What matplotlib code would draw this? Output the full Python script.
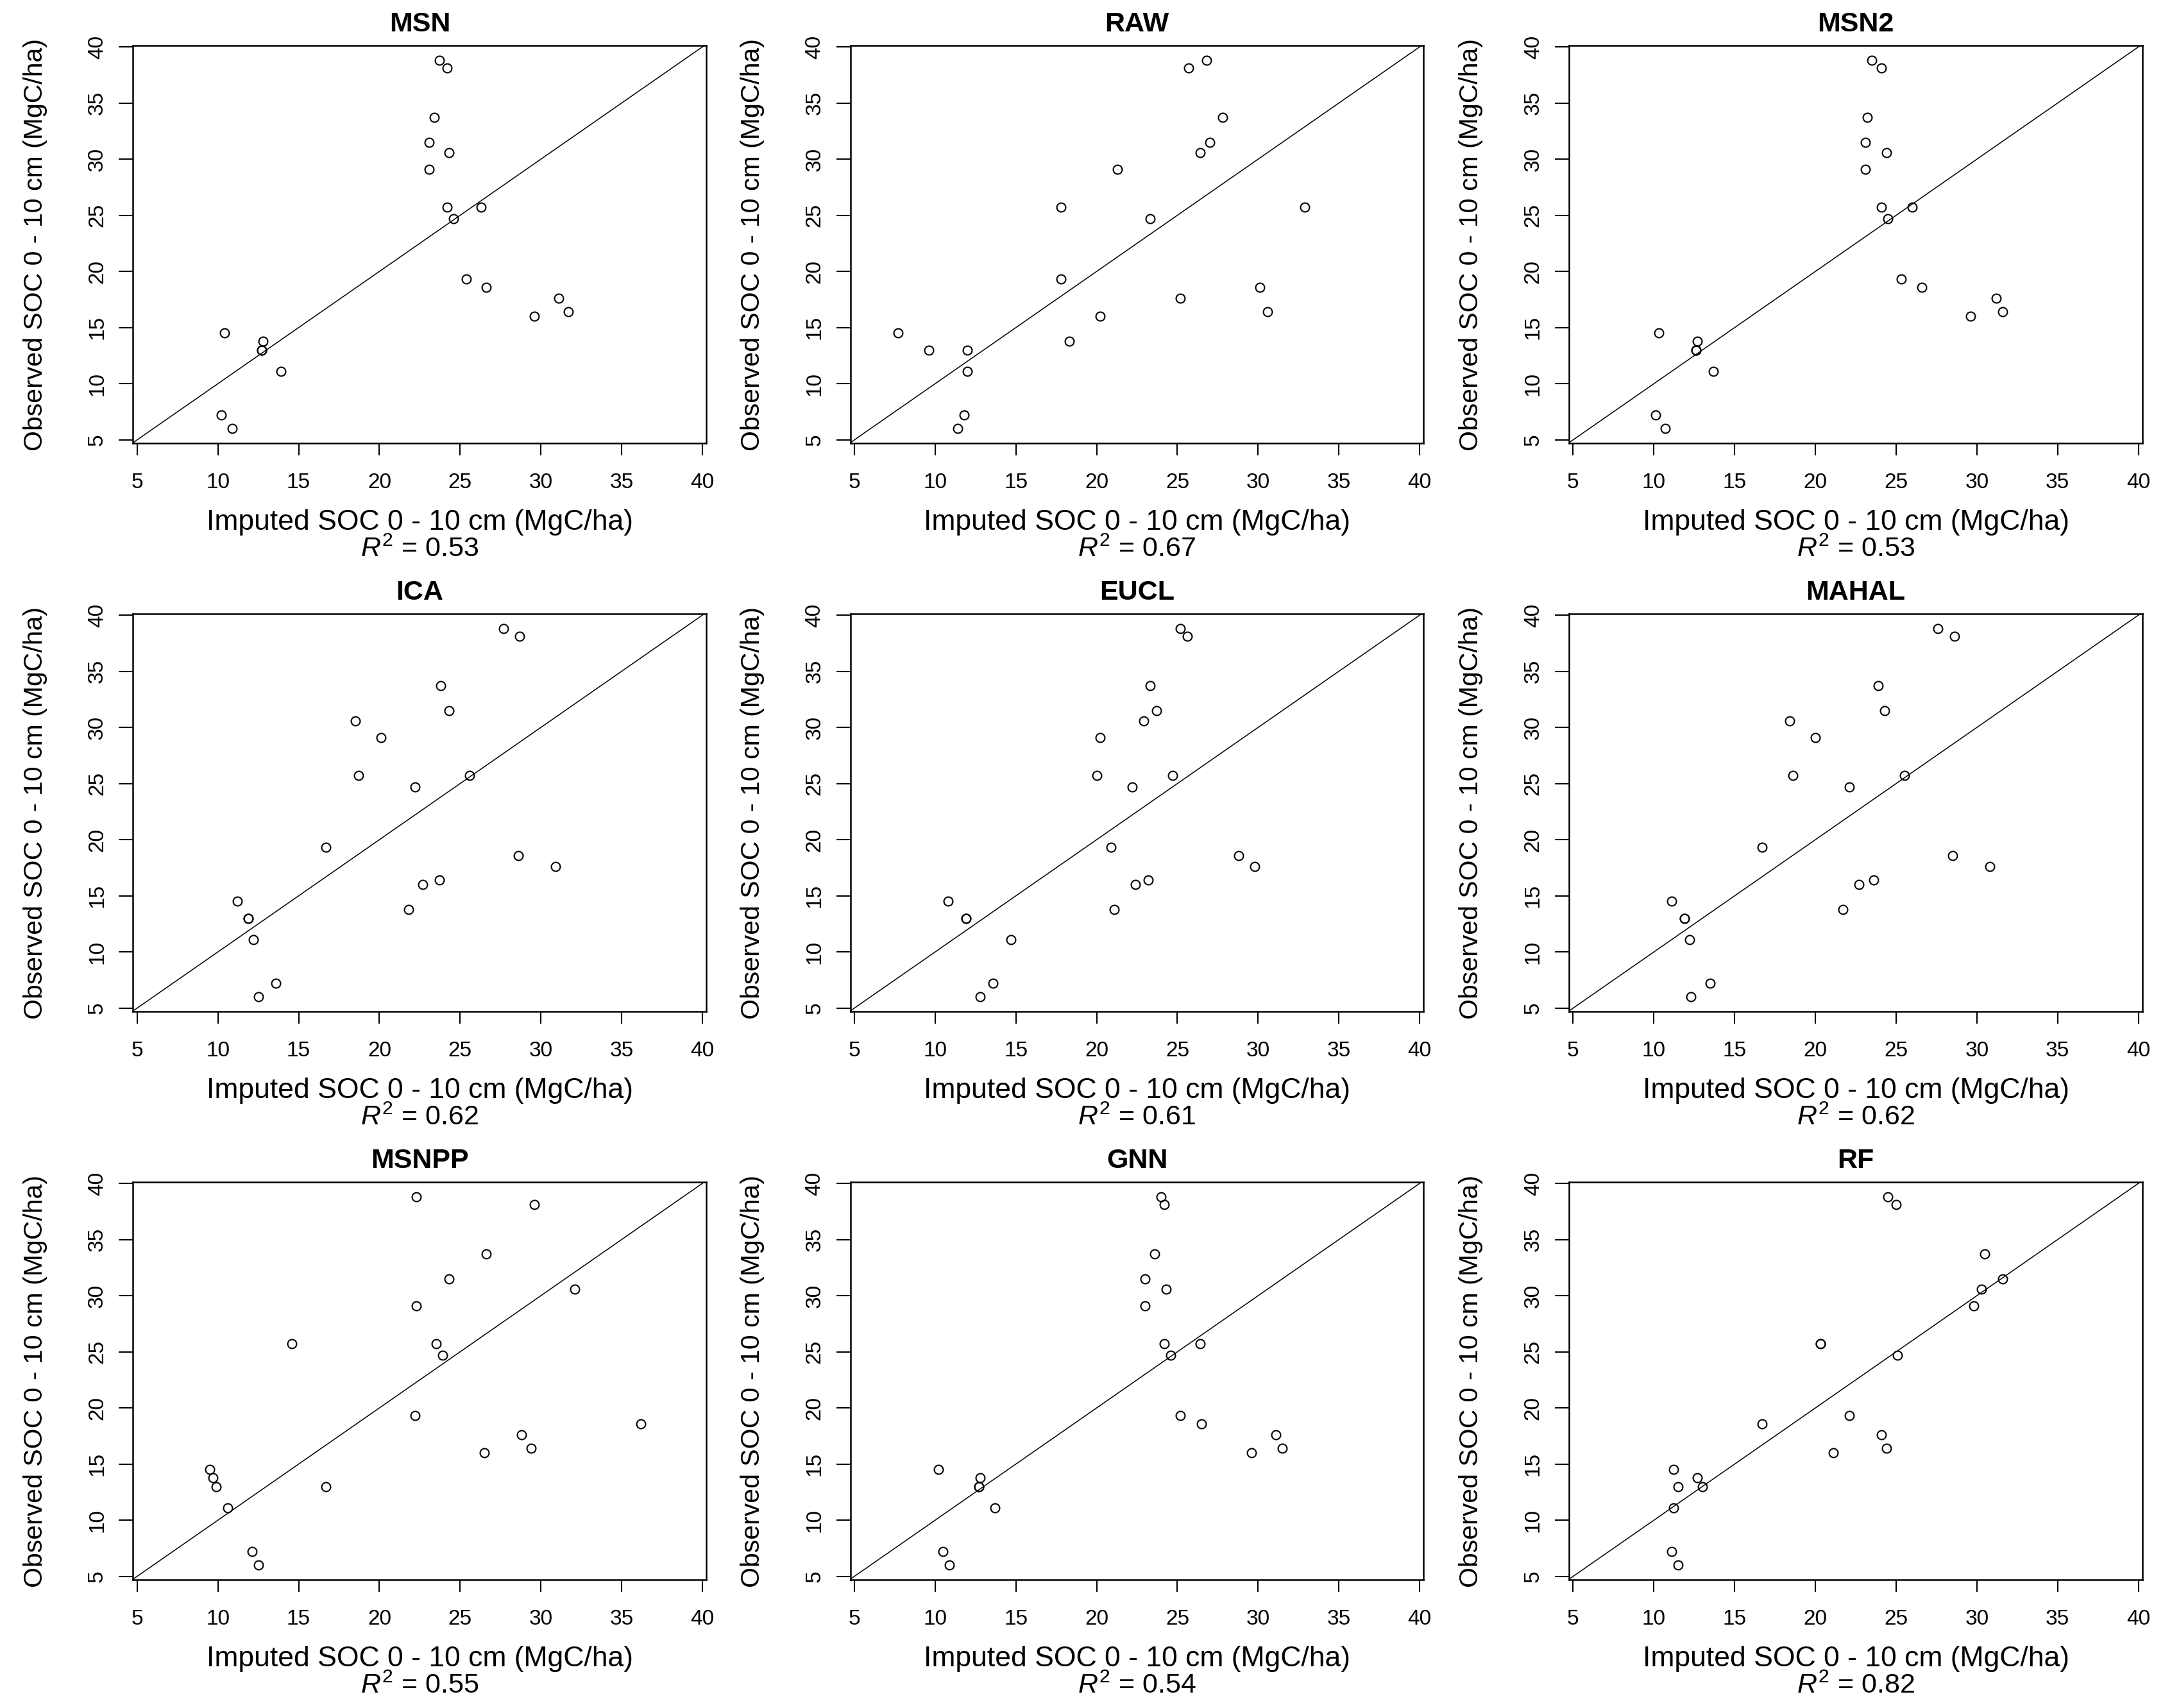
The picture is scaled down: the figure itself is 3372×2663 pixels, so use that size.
import matplotlib
matplotlib.use("Agg")
import matplotlib.pyplot as plt

plt.rcParams["font.family"] = ["Liberation Sans", "DejaVu Sans"]
plt.rcParams["mathtext.fontset"] = "custom"
plt.rcParams["mathtext.rm"] = "Liberation Sans"
plt.rcParams["mathtext.it"] = "Liberation Sans:italic"

# observed SOC (same plots for every method)
observed = [38.8, 38.1, 33.7, 31.5, 30.6, 29.1, 25.7, 25.7, 24.7, 19.3, 18.6,
            17.6, 16.4, 16.0, 14.5, 13.8, 13.0, 13.0, 11.1, 7.2, 6.0]

# imputed SOC per method, same order as observed
msn = [23.7, 24.2, 23.4, 23.1, 24.3, 23.1, 24.2, 26.3, 24.6, 25.4, 26.6,
       31.1, 31.7, 29.6, 10.4, 12.8, 12.7, 12.7, 13.9, 10.2, 10.9]
raw = [26.8, 25.7, 27.8, 27.0, 26.4, 21.3, 17.8, 32.9, 23.3, 17.8, 30.1,
       25.2, 30.6, 20.2, 7.7, 18.3, 9.6, 12.0, 12.0, 11.8, 11.4]
msn2 = [23.5, 24.1, 23.2, 23.1, 24.4, 23.1, 24.1, 26.0, 24.5, 25.3, 26.6,
        31.2, 31.6, 29.6, 10.3, 12.7, 12.6, 12.6, 13.7, 10.1, 10.7]
ica = [27.7, 28.7, 23.8, 24.3, 18.5, 20.1, 18.7, 25.6, 22.2, 16.7, 28.6,
       30.9, 23.7, 22.7, 11.2, 21.8, 11.9, 11.9, 12.2, 13.6, 12.5]
eucl = [25.2, 25.6, 23.3, 23.7, 22.9, 20.2, 20.0, 24.7, 22.2, 20.9, 28.8,
        29.8, 23.2, 22.4, 10.8, 21.1, 11.9, 11.9, 14.7, 13.6, 12.8]
mahal = [27.6, 28.6, 23.9, 24.3, 18.4, 20.0, 18.6, 25.5, 22.1, 16.7, 28.5,
         30.8, 23.6, 22.7, 11.1, 21.7, 11.9, 11.9, 12.2, 13.5, 12.3]
msnpp = [22.3, 29.6, 26.6, 24.3, 32.1, 22.3, 14.6, 23.5, 23.9, 22.2, 36.2,
         28.8, 29.4, 26.5, 9.5, 9.7, 9.9, 16.7, 10.6, 12.1, 12.5]
gnn = [24.0, 24.2, 23.6, 23.0, 24.3, 23.0, 24.2, 26.4, 24.6, 25.2, 26.5,
       31.1, 31.5, 29.6, 10.2, 12.8, 12.7, 12.7, 13.7, 10.5, 10.9]
rf = [24.5, 25.0, 30.5, 31.6, 30.3, 29.8, 20.3, 20.3, 25.1, 22.1, 16.7,
      24.1, 24.4, 21.1, 11.2, 12.7, 11.5, 13.0, 11.2, 11.1, 11.5]

methods = ["MSN", "RAW", "MSN2", "ICA", "EUCL", "MAHAL", "MSNPP", "GNN", "RF"]
imputed = [msn, raw, msn2, ica, eucl, mahal, msnpp, gnn, rf]
r2 = ["0.53", "0.67", "0.53", "0.62", "0.61", "0.62", "0.55", "0.54", "0.82"]
ticks = [5, 10, 15, 20, 25, 30, 35, 40]

fig = plt.figure(figsize=(33.73, 26.63), dpi=100)

col_left = [0.0615, 0.393, 0.7252]
row_bottom = [0.7405, 0.4078, 0.0751]
w, h = 0.265, 0.2327

for i, name in enumerate(methods):
    r, c = divmod(i, 3)
    ax = fig.add_axes([col_left[c], row_bottom[r], w, h])
    ax.plot(imputed[i], observed, "o", mfc="none", mec="black", ms=10, mew=1.5)
    ax.axline((5, 5), slope=1, color="black", lw=1.1)
    ax.set_xlim(4.75, 40.25)
    ax.set_ylim(4.7, 40.1)
    ax.set_xticks(ticks)
    ax.set_yticks(ticks)
    ax.tick_params(axis="x", length=14, width=1.5, pad=19, labelsize=24)
    ax.tick_params(axis="y", length=16, width=1.5, pad=13, labelsize=24)
    for lab in ax.get_yticklabels():
        lab.set_rotation(90)
        lab.set_va("center")
    for s in ax.spines.values():
        s.set_linewidth(1.8)
    ax.set_title(name, fontsize=31, fontweight="bold", pad=16)
    ax.text(0.5, -0.199, "Imputed SOC 0 - 10 cm (MgC/ha)", transform=ax.transAxes,
            ha="center", va="center", fontsize=32)
    ax.text(0.5, -0.267, r"$R^2$" + " = " + r2[i], transform=ax.transAxes,
            ha="center", va="center", fontsize=31)
    ax.text(-0.171, 0.5, "Observed SOC 0 - 10 cm (MgC/ha)", transform=ax.transAxes,
            rotation=90, ha="center", va="center", fontsize=29.5)

fig.savefig("out.png", dpi=100)
